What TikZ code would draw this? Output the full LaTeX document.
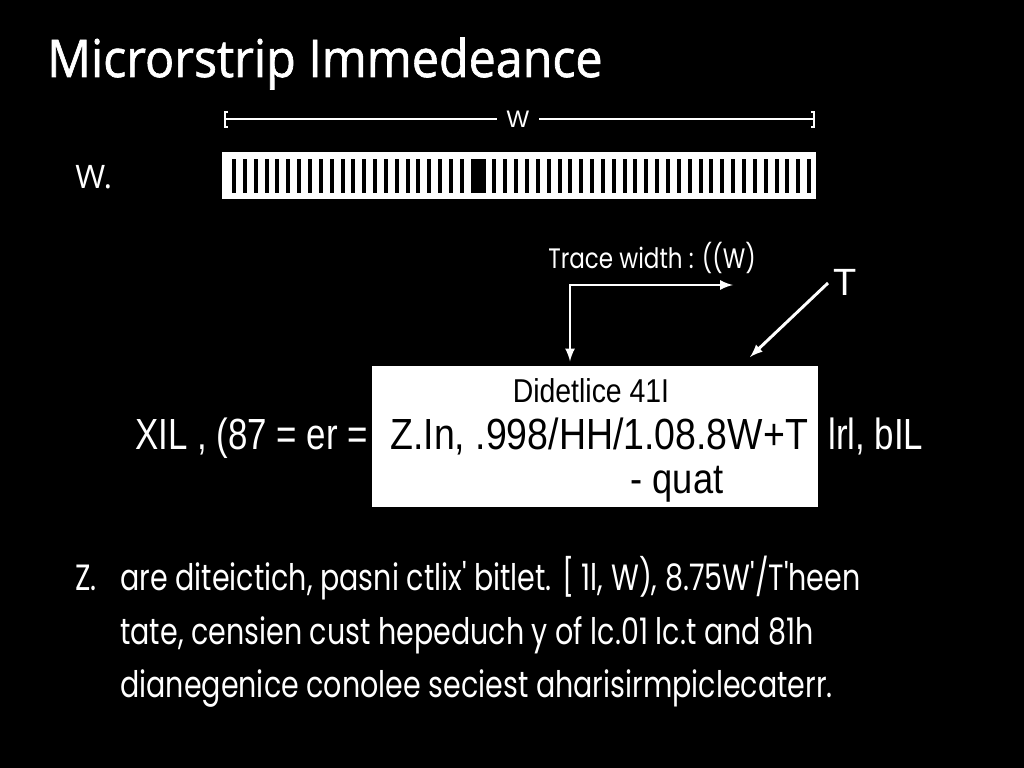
\documentclass[tikz,border=0pt]{standalone}
\usepackage{fontspec}
\setmainfont{Liberation Sans}
\newfontfamily\titlefont[FakeBold=1.2,FakeStretch=0.93]{Open Sans}
\newfontfamily\sidefont{Open Sans}
\newfontfamily\geofont[FakeStretch=0.78]{Poppins}
\newfontfamily\tracefont[FakeStretch=0.82]{Poppins}
\newfontfamily\narrowfont[FakeStretch=0.86]{Liberation Sans}
\newfontfamily\outerfont[FakeStretch=0.8]{Liberation Sans}

\begin{document}
\begin{tikzpicture}[x=0.025cm,y=-0.025cm,
    txt/.style={text=white,inner sep=0pt,anchor=base west},
    boxtxt/.style={text=black,inner sep=0pt,anchor=base west,
      font=\narrowfont\fontsize{30}{34}\selectfont},
    sidetxt/.style={txt,font=\outerfont\fontsize{31}{34}\selectfont},
    note/.style={txt,font=\geofont\fontsize{26}{30}\selectfont},
    pointer/.style={draw=white,line width=2.1pt,>=latex}]
  \fill[black] (0,0) rectangle (1024,768);
  \node[txt,font=\titlefont\fontsize{37}{40}\selectfont]
    (title) at (47,77) {Microrstrip Immedeance};
  \node[txt,font=\sidefont\fontsize{23}{26}\selectfont]
    (wside) at (75,189) {W.};
  \node[text=white,inner ysep=0pt,inner xsep=7pt,font=\fontsize{17}{20}\selectfont]
    (wdim) at (518,119) {W};
  \draw[white,line width=1.8pt]
    (wdim.west) -- (225,119) ++(3,-7) -- ++(-3,0) -- ++(0,15) -- ++(3,0);
  \draw[white,line width=1.8pt]
    (wdim.east) -- (814,119) ++(-3,-7) -- ++(3,0) -- ++(0,15) -- ++(-3,0);
  \fill[white] (222,152) rectangle (816,199);
  \foreach \i in {0,...,53}
    \fill[black] ({232+10.85*\i},159) rectangle ++(4,34);
  \fill[black] (474,159) rectangle (483,193);
  \node[txt,font=\tracefont\fontsize{20}{22}\selectfont]
    (trace) at (548,268) {Trace width : ((W)};
  \node[txt,font=\fontsize{27}{30}\selectfont] (tlbl) at (833,295) {T};
  \node[fill=white,inner sep=0pt,minimum width=11.15cm,minimum height=3.525cm]
    (formula) at (595,436.5) {};
  \node[boxtxt,anchor=base,font=\narrowfont\fontsize{23.5}{26}\selectfont]
    (diel) at (591,402) {Didetlice 41I};
  \node[boxtxt,font=\narrowfont\fontsize{31}{34}\selectfont]
    (zexpr) at (390,449) {Z.In, .998/HH/1.08.8W+T};
  \node[boxtxt,anchor=base] (quat) at (677,493) {- quat};
  \node[sidetxt] (lhs) at (135,449) {XIL , (87 = er =};
  \node[sidetxt] (rhs) at (828,449) {lrl, bIL};
  \coordinate (elbow) at (570,285);
  \coordinate (wend) at (733,285);
  \draw[pointer,<->,shorten <=3pt] (formula.north -| elbow) -- (elbow) -- (wend);
  \coordinate (tstart) at (828,283);
  \coordinate (ttip) at (750,357);
  \draw[pointer,->] (tstart) -- (ttip);
  \node[note] (znum) at (75,590) {Z.};
  \node[note] (line1) at (120,590)
    {are diteictich, pasni ctlix' bitlet. [ 1l, W), 8.75W'/T'heen};
  \node[note] (line2) at (120,644)
    {tate, censien cust hepeduch y of lc.01 lc.t and 81h};
  \node[note] (line3) at (120,697)
    {dianegenice conolee seciest aharisirmpiclecaterr.};
\end{tikzpicture}
\end{document}
